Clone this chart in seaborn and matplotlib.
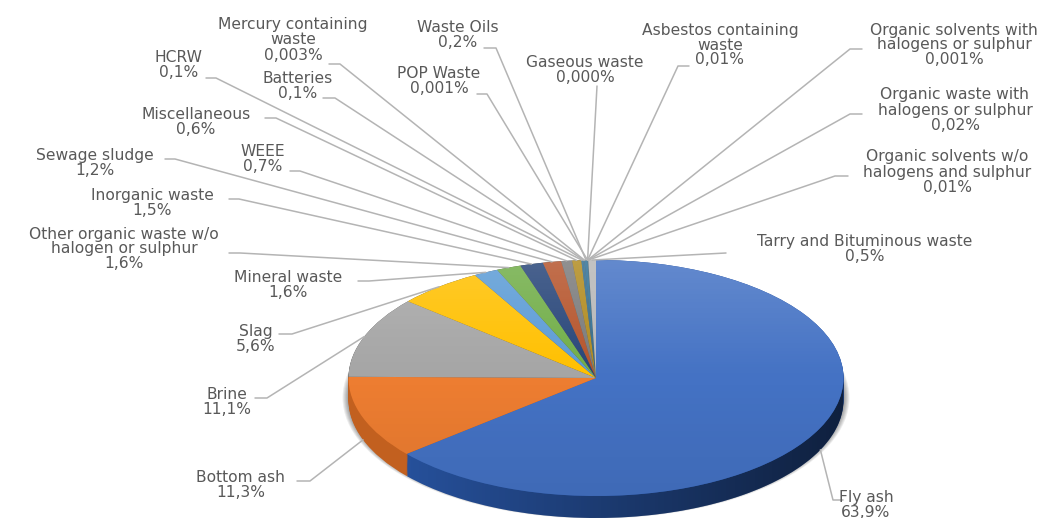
import numpy as np
import matplotlib
matplotlib.use("Agg")
import matplotlib.pyplot as plt
from matplotlib.patches import Circle, PathPatch
from matplotlib.path import Path
import seaborn as sns

# Waste streams, clockwise from twelve o'clock
categories = [
    "Fly ash", "Bottom ash", "Brine", "Slag", "Mineral waste",
    "Other organic waste w/o\nhalogen or sulphur", "Inorganic waste",
    "Sewage sludge", "WEEE", "Miscellaneous", "HCRW", "Batteries",
    "Mercury containing\nwaste", "Waste Oils", "POP Waste", "Gaseous waste",
    "Asbestos containing\nwaste", "Organic solvents with\nhalogens or sulphur",
    "Organic waste with\nhalogens or sulphur",
    "Organic solvents w/o\nhalogens and sulphur", "Tarry and Bituminous waste",
]
shares = [
    63.9, 11.3, 11.1, 5.6, 1.6, 1.6, 1.5, 1.2, 0.7, 0.6, 0.1, 0.1,
    0.003, 0.2, 0.001, 0.0, 0.01, 0.001, 0.02, 0.01, 0.5,
]
share_labels = [
    "63,9%", "11,3%", "11,1%", "5,6%", "1,6%", "1,6%", "1,5%", "1,2%",
    "0,7%", "0,6%", "0,1%", "0,1%", "0,003%", "0,2%", "0,001%", "0,000%",
    "0,01%", "0,001%", "0,02%", "0,01%", "0,5%",
]
face_hex = [
    "#4472C4", "#ED7D31", "#A5A5A5", "#FFC000", "#5B9BD5", "#70AD47",
    "#264478", "#B5532A", "#7A7A7A", "#B08A1E", "#2F7096", "#2F7096",
    "#2F7096", "#2F7096", "#2F7096", "#2F7096", "#2F7096", "#2F7096",
    "#2F7096", "#2F7096", "#B7B7B7",
]
side_hex = ["#26509A", "#C2601F"] + ["#555555"] * 19

W, H = 1052, 518
CX, CY, RX, RY, DEPTH = 596.0, 378.0, 247.5, 118.0, 22.0

# label layout in pixels: text centre, then the elbow of its leader (stub end, elbow)
layout = {
    0: ((866, 505), (843, 833, 500)),
    1: ((241, 485), (297, 310, 481)),
    2: ((227, 402), (255, 267, 398)),
    3: ((256, 339), (279, 292, 334)),
    4: ((288, 285), (358, 369, 281)),
    5: ((124, 249), (229, 240, 253)),
    6: ((152, 203), (229, 239, 199)),
    7: ((95, 163), (165, 175, 159)),
    8: ((263, 159), (290, 300, 171)),
    9: ((196, 122), (265, 276, 118)),
    10: ((179, 65), (206, 216, 78)),
    11: ((298, 86), (323, 335, 98)),
    12: ((293, 40), (329, 340, 64)),
    13: ((458, 35), (484, 496, 48)),
    14: ((439, 81), (477, 487, 94)),
    15: ((585, 70), (597, 597, 86)),
    16: ((720, 45), (689, 678, 66)),
    17: ((954, 45), (862, 850, 49)),
    18: ((955, 110), (862, 850, 114)),
    19: ((947, 172), (848, 835, 176)),
    20: ((865, 249), (726, 726, 253)),
}

sns.set_theme(style="white")
plt.rcParams["font.family"] = ["DejaVu Sans"]
TEXT = "#595959"
LEADER = "#B4B4B4"
colors = sns.color_palette(face_hex)
side_colors = sns.color_palette(side_hex)

fig = plt.figure(figsize=(W / 100, H / 100), dpi=100, facecolor="white")
ax = fig.add_axes([0, 0, 1, 1])
dz = DEPTH / RY

# soft shadow hugging the lower rim
for k in range(6):
    ax.add_patch(Circle((0, -dz * 0.9), 1.0 + 0.004 * (6 - k), color="black",
                        alpha=0.07, lw=0, zorder=1))

# extruded wall of the disc, stacked from the bottom upwards
for step in np.linspace(dz, 0.0, 24):
    wedges, _ = ax.pie(shares, colors=side_colors, startangle=90, counterclock=False,
                       center=(0, -step), radius=1.0, frame=False,
                       wedgeprops={"linewidth": 0, "zorder": 2})

# darkening of the wall towards the right
theta = np.linspace(np.pi, 2 * np.pi, 200)
wall = np.vstack([np.c_[np.cos(theta), np.sin(theta)],
                  np.c_[np.cos(theta[::-1]), np.sin(theta[::-1]) - dz]])
wall_patch = PathPatch(Path(np.vstack([wall, wall[:1]]), closed=True), fc="none", lw=0, zorder=2)
ax.add_patch(wall_patch)
wall_shade = np.zeros((1, 256, 4))
wall_shade[..., 3] = np.clip(np.linspace(-0.08, 0.6, 256), 0, 1)
im = ax.imshow(wall_shade, extent=(-1, 1, -1 - dz, 1), aspect="auto", zorder=3)
im.set_clip_path(wall_patch)

# top face
ax.pie(shares, colors=colors, startangle=90, counterclock=False, radius=1.0, frame=False,
       wedgeprops={"linewidth": 0, "zorder": 4})

# vertical sheen across the top face
sheen = np.zeros((256, 1, 4))
ramp = np.linspace(1, -1, 256)
sheen[..., :3] = (ramp > 0).reshape(-1, 1, 1)
sheen[..., 3] = np.where(ramp > 0, 0.17 * ramp, 0.07 * -ramp).reshape(-1, 1)
face = Circle((0, 0), 1.0, fc="none", lw=0, zorder=5)
ax.add_patch(face)
im2 = ax.imshow(sheen, extent=(-1, 1, -1, 1), aspect="auto", zorder=5)
im2.set_clip_path(face)

ax.set_aspect("auto")
ax.set_xlim(-CX / RX, (W - CX) / RX)
ax.set_ylim(-(H - CY) / RY, CY / RY)
ax.axis("off")

# overlay in pixel units for the labels and leaders
ann = fig.add_axes([0, 0, 1, 1], facecolor="none")
ann.set_xlim(0, W)
ann.set_ylim(H, 0)
ann.axis("off")

cum = np.cumsum(shares)
mids = (cum - np.asarray(shares) / 2) / cum[-1] * 2 * np.pi
for i, (name, pct) in enumerate(zip(categories, share_labels)):
    (tx, ty), (sx, ex, ey) = layout[i]
    rim_x = CX + RX * np.sin(mids[i])
    rim_y = CY - RY * np.cos(mids[i])
    if np.cos(mids[i]) < 0 and i < 2:
        rim_y += DEPTH
    ann.plot([sx, ex, rim_x], [ey, ey, rim_y], color=LEADER, lw=1.1,
             solid_joinstyle="round", zorder=6)
    ann.text(tx, ty, f"{name}\n{pct}", ha="center", va="center", color=TEXT,
             fontsize=11.2, linespacing=1.0, zorder=7)

fig.savefig("out.png", dpi=100, facecolor="white")
